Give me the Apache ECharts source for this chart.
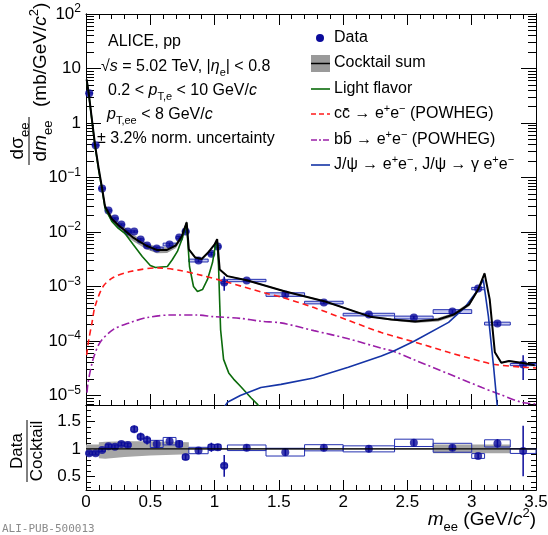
<!DOCTYPE html>
<html>
<head>
<meta charset="utf-8">
<title>ALICE pp 5.02 TeV dielectron cocktail</title>
<script src="https://cdn.jsdelivr.net/npm/echarts@6/dist/echarts.min.js"></script>
<style>
  html, body { margin: 0; padding: 0; background: #fff; }
  #main { width: 548px; height: 535px; }
</style>
</head>
<body>
<div id="main"></div>
<script>
// ---------- data points (mass bin centres, GeV/c^2) ----------
var massData = [0.025, 0.075, 0.125, 0.175, 0.225, 0.275, 0.325, 0.375, 0.425, 0.475,
                0.55, 0.65, 0.725, 0.775, 0.875, 0.975, 1.025, 1.075,
                1.25, 1.55, 1.85, 2.2, 2.55, 2.85, 3.05, 3.2, 3.4];
var binLo = [0, 0.05, 0.1, 0.15, 0.2, 0.25, 0.3, 0.35, 0.4, 0.45,
             0.5, 0.6, 0.7, 0.75, 0.8, 0.95, 1.0, 1.05,
             1.1, 1.4, 1.7, 2.0, 2.4, 2.7, 3.0, 3.1, 3.3];
var binHi = [0.05, 0.1, 0.15, 0.2, 0.25, 0.3, 0.35, 0.4, 0.45, 0.5,
             0.6, 0.7, 0.75, 0.8, 0.95, 1.0, 1.05, 1.1,
             1.4, 1.7, 2.0, 2.4, 2.7, 3.0, 3.1, 3.3, 3.5];
var dataVal = [3.5, 0.39, 0.063, 0.0248, 0.0177, 0.0137, 0.0102, 0.0102, 0.0073, 0.00565,
               0.0050, 0.0059, 0.0079, 0.0102, 0.0030, 0.0040, 0.0054, 0.00118,
               0.00129, 0.000713, 0.000508, 0.000306, 0.000270, 0.000348, 0.000918, 0.000209, 0.000037];
var statRel = [0.02, 0.02, 0.03, 0.03, 0.03, 0.03, 0.04, 0.05, 0.06, 0.07,
               0.06, 0.06, 0.06, 0.05, 0.06, 0.08, 0.06, 0.29,
               0.06, 0.07, 0.06, 0.06, 0.06, 0.06, 0.04, 0.07, 0.48];
var sysRel = [0.03, 0.03, 0.03, 0.03, 0.03, 0.03, 0.03, 0.03, 0.03, 0.03,
              0.06, 0.06, 0.05, 0.05, 0.06, 0.05, 0.05, 0.05,
              0.05, 0.075, 0.055, 0.055, 0.06, 0.08, 0.05, 0.06, 0.045];
var ratioVal = [0.92, 0.92, 0.98, 1.05, 1.04, 1.09, 1.07, 1.36, 1.22, 1.16,
                1.09, 1.14, 1.09, 0.85, 0.97, 1.03, 1.03, 0.69,
                1.02, 0.94, 1.02, 1.0, 1.11, 1.02, 0.87, 1.1, 0.96];

// ---------- cocktail sum ----------
var cocktailM = [0.005, 0.02, 0.07, 0.1, 0.125, 0.148, 0.2, 0.25, 0.3, 0.37, 0.47, 0.55, 0.63, 0.7, 0.745, 0.783,
                 0.8, 0.85, 0.9, 0.95, 1.0, 1.02, 1.04, 1.1, 1.25, 1.55, 1.86, 2.21, 2.375, 2.56, 2.74, 2.86,
                 2.98, 3.05, 3.10, 3.14, 3.18, 3.23, 3.29, 3.41, 3.49];
var cocktailV = [6.3, 3.7, 0.40, 0.14, 0.064, 0.0295, 0.0175, 0.0135, 0.0108, 0.0078, 0.0056, 0.0047, 0.0047, 0.0057, 0.0083, 0.0150,
                 0.0048, 0.0034, 0.0032, 0.0042, 0.0059, 0.0074, 0.00205, 0.00155, 0.00130, 0.00081, 0.00053, 0.00028, 0.000248, 0.000228, 0.000248, 0.000306,
                 0.00047, 0.00088, 0.00174, 0.00058, 6.2e-5, 4.0e-5, 4.3e-5, 3.9e-5, 3.6e-5];
var cocktailUnc = [0.06, 0.06, 0.06, 0.08, 0.1, 0.12, 0.14, 0.15, 0.15, 0.14, 0.14, 0.13, 0.12, 0.11, 0.1, 0.1,
                   0.05, 0.04, 0.03, 0.03, 0.03, 0.03, 0.03, 0.03, 0.03, 0.03, 0.03, 0.03, 0.04, 0.06, 0.08, 0.08,
                   0.08, 0.07, 0.06, 0.05, 0.03, 0.03, 0.03, 0.03, 0.03];

// ---------- cocktail components ----------
var lfM = [0.005, 0.02, 0.07, 0.1, 0.125, 0.148, 0.2, 0.25, 0.305, 0.367, 0.4375, 0.5, 0.54, 0.633, 0.672, 0.711,
           0.75, 0.781, 0.789, 0.805, 0.836, 0.867, 0.906, 0.945, 0.984, 1.008, 1.02, 1.031, 1.039, 1.047,
           1.07, 1.11, 1.148, 1.203, 1.281, 1.336, 1.37];
var lfV = [6.2, 3.6, 0.38, 0.13, 0.06, 0.027, 0.0158, 0.0118, 0.0093, 0.0059, 0.00355, 0.00243, 0.00223, 0.00233, 0.00313, 0.0044,
           0.0078, 0.0145, 0.0081, 0.00233, 0.0010, 0.00081, 0.00088, 0.00135, 0.00275, 0.0059, 0.0070, 0.00233, 0.00058, 0.00016,
           4.6e-5, 2.6e-5, 2.0e-5, 1.46e-5, 9.2e-6, 6.8e-6, 5.0e-6];
var ccM = [0.005, 0.02, 0.047, 0.07, 0.133, 0.211, 0.344, 0.555, 0.734, 0.9, 1.1, 1.4, 1.52, 1.773, 2.04, 2.297, 2.555, 2.82, 3.08, 3.18, 3.41, 3.5];
var ccV = [5.5e-5, 1.0e-4, 2.2e-4, 4.3e-4, 1.0e-3, 1.46e-3, 1.88e-3, 2.2e-3, 1.97e-3, 1.6e-3, 1.2e-3, 7.5e-4, 6.4e-4, 4.1e-4, 2.4e-4, 1.43e-4, 9.6e-5, 6.2e-5, 4.2e-5, 3.7e-5, 3.3e-5, 3.2e-5];
var bbM = [0.008, 0.016, 0.055, 0.109, 0.211, 0.344, 0.477, 0.656, 0.867, 0.992, 1.203, 1.36, 1.516, 1.773, 2.04, 2.297, 2.39, 2.555, 2.82, 3.08, 3.21, 3.39, 3.5];
var bbV = [1.13e-5, 1.73e-5, 4.6e-5, 9.4e-5, 1.62e-4, 2.18e-4, 2.7e-4, 3.0e-4, 3.0e-4, 2.8e-4, 2.6e-4, 2.3e-4, 2.15e-4, 1.55e-4, 1.1e-4, 7.4e-5, 6.5e-5, 4.5e-5, 2.5e-5, 1.4e-5, 1.07e-5, 7.5e-6, 7.0e-6];
var jpsiM = [1.05, 1.1, 1.2, 1.36, 1.516, 1.77, 2.04, 2.297, 2.39, 2.555, 2.82, 2.945, 3.05, 3.09, 3.13, 3.17, 3.2, 3.22];
var jpsiV = [5e-6, 7.5e-6, 1.0e-5, 1.4e-5, 1.6e-5, 2.1e-5, 3.3e-5, 5.3e-5, 6.5e-5, 1.0e-4, 2.2e-4, 4.1e-4, 8.8e-4, 1.34e-3, 2.8e-4, 3.4e-5, 6e-6, 3e-6];

// ---------- ratio panel cocktail uncertainty ----------
var rbM  = [0, 0.1, 0.1, 0.15, 0.3, 0.5, 0.8, 0.8, 2.7, 2.7, 3.3, 3.3, 3.5];
var rbLo = [0.87, 0.87, 0.83, 0.82, 0.85, 0.88, 0.9, 0.985, 0.985, 0.92, 0.92, 0.985, 0.985];
var rbHi = [1.08, 1.08, 1.12, 1.13, 1.14, 1.14, 1.12, 1.015, 1.015, 1.08, 1.08, 1.015, 1.015];

// ---------- tick labels ----------
var yMajor = [1e-5, 1e-4, 1e-3, 1e-2, 1e-1, 1, 10, 100];
var ratioMajor = [0.5, 1, 1.5];
var ratioMinor = [0.3, 0.4, 0.6, 0.7, 0.8, 0.9, 1.1, 1.2, 1.3, 1.4, 1.6, 1.7];

var yMin = Math.pow(10, -5.174);
var yMinor = [];
for (var e = -6; e < 2; e++) {
    for (var k = 2; k <= 9; k++) {
        var v = k * Math.pow(10, e);
        if (v > yMin && v < 100) yMinor.push(v);
    }
}

var F = '"Liberation Sans", Arial, Helvetica, sans-serif';
var BLUE = '#0a0a9a';

var chart = echarts.init(document.getElementById('main'), null, {width: 548, height: 535});

function pairs(xs, ys) {
    return xs.map(function (x, i) { return [x, ys[i]]; });
}

// 10^n labels
function logLabel(v) {
    var l = Math.log10(v);
    var n = Math.round(l);
    if (Math.abs(l - n) > 1e-6) return '';
    if (n === 0) return '{b|1}';
    if (n === 1) return '{b|10}';
    return '{b|10}{s|' + (n < 0 ? '\u2212' + (-n) : n) + '}';
}

function bandItem(xs, lo, hi, color) {
    return function (params, api) {
        var pts = [];
        for (var i = 0; i < xs.length; i++) pts.push(api.coord([xs[i], hi[i]]));
        for (var j = xs.length - 1; j >= 0; j--) pts.push(api.coord([xs[j], lo[j]]));
        var cs = params.coordSys;
        return {
            type: 'group',
            clipPath: {type: 'rect', shape: {x: cs.x, y: cs.y, width: cs.width, height: cs.height}},
            children: [{type: 'polygon', shape: {points: pts}, style: {fill: color}}]
        };
    };
}

function boxItem(fill) {
    return function (params, api) {
        var a = api.coord([api.value(0), api.value(3)]);
        var b = api.coord([api.value(1), api.value(2)]);
        return {
            type: 'rect',
            shape: {x: a[0], y: a[1], width: b[0] - a[0], height: b[1] - a[1]},
            style: {fill: fill, stroke: '#2430b0', lineWidth: 1}
        };
    };
}

function errItem(params, api) {
    var a = api.coord([api.value(0), api.value(1)]);
    var b = api.coord([api.value(0), api.value(2)]);
    return {type: 'line', shape: {x1: a[0], y1: a[1], x2: b[0], y2: b[1]}, style: {stroke: BLUE, lineWidth: 1.5}};
}

function xAx(grid, pos, showLabel, major, minor) {
    return {
        type: 'value', gridIndex: grid, position: pos, min: 0, max: 3.5, interval: 0.5,
        axisLine: {show: true, onZero: false, lineStyle: {color: '#000', width: 1}},
        axisTick: {show: true, inside: true, length: major, lineStyle: {color: '#000'}},
        minorTick: {show: minor > 0, splitNumber: 5, length: minor, lineStyle: {color: '#000'}},
        axisLabel: {show: showLabel, color: '#000', fontSize: 17, fontFamily: F, margin: 4},
        splitLine: {show: false}, minorSplitLine: {show: false}
    };
}

function yLog(pos, ticks, len, labels) {
    return {
        type: 'log', logBase: 10, gridIndex: 0, position: pos, min: yMin, max: 100,
        axisLine: {show: true, onZero: false, lineStyle: {color: '#000', width: 1}},
        axisTick: {show: true, inside: true, length: len, customValues: ticks, lineStyle: {color: '#000'}},
        axisLabel: {
            show: labels, customValues: yMajor, formatter: logLabel, margin: 5,
            rich: {
                b: {fontSize: 17, fontFamily: F, color: '#000', lineHeight: 22},
                s: {fontSize: 12, fontFamily: F, color: '#000', verticalAlign: 'top'}
            }
        },
        splitLine: {show: false}
    };
}

function yRatio(pos, ticks, len, labels) {
    return {
        type: 'value', gridIndex: 1, position: pos, min: 0.25, max: 1.8,
        axisLine: {show: true, onZero: false, lineStyle: {color: '#000', width: 1}},
        axisTick: {show: true, inside: true, length: len, customValues: ticks, lineStyle: {color: '#000'}},
        axisLabel: {show: labels, customValues: ratioMajor, color: '#000', fontSize: 17, fontFamily: F, margin: 5},
        splitLine: {show: false}
    };
}

// rich text for free texts
function rt(size) {
    var s = Math.round(size * 0.7);
    return {
        n: {fontSize: size, fontFamily: F, fill: '#000', lineHeight: Math.round(size * 1.4)},
        i: {fontSize: size, fontFamily: F, fontStyle: 'italic', fill: '#000', lineHeight: Math.round(size * 1.4)},
        sub: {fontSize: s, fontFamily: F, fill: '#000', verticalAlign: 'bottom'},
        sup: {fontSize: s, fontFamily: F, fill: '#000', verticalAlign: 'top'}
    };
}
var R16 = rt(16), R17 = rt(17), R19 = rt(19);

function txt(x, y, text, rich, align) {
    return {type: 'text', x: x, y: y, silent: true,
        style: {text: text, rich: rich, align: align || 'left', verticalAlign: 'middle'}};
}
function seg(x1, y1, x2, y2, color, width, dash) {
    return {type: 'line', silent: true, shape: {x1: x1, y1: y1, x2: x2, y2: y2},
        style: {stroke: color, lineWidth: width, lineDash: dash || null}};
}

var option = {
    animation: false,
    backgroundColor: '#fff',
    grid: [
        {left: 86, top: 14, width: 450, height: 391, outerBoundsMode: 'none'},
        {left: 86, top: 405, width: 450, height: 85, outerBoundsMode: 'none'}
    ],
    xAxis: [
        xAx(0, 'bottom', false, 11, 5),
        xAx(0, 'top', false, 11, 5),
        xAx(1, 'bottom', true, 10, 5),
        xAx(1, 'top', false, 4, 0)
    ],
    yAxis: [
        yLog('left', yMajor, 15, true),
        yLog('left', yMinor, 8, false),
        yLog('right', yMajor, 15, false),
        yLog('right', yMinor, 8, false),
        yRatio('left', ratioMajor, 9, true),
        yRatio('left', ratioMinor, 5, false),
        yRatio('right', ratioMajor, 9, false),
        yRatio('right', ratioMinor, 5, false)
    ],
    series: [
        {   // cocktail uncertainty band
            type: 'custom', xAxisIndex: 0, yAxisIndex: 0, silent: true,
            data: [[1, 1]],
            renderItem: bandItem(cocktailM,
                cocktailV.map(function (v, i) { return v * (1 - cocktailUnc[i]); }),
                cocktailV.map(function (v, i) { return v * (1 + cocktailUnc[i]); }), '#9a9a9a')
        },
        {name: 'Light flavor', type: 'line', xAxisIndex: 0, yAxisIndex: 0, symbol: 'none',
            data: pairs(lfM, lfV), lineStyle: {color: '#0b6b0b', width: 1.6}},
        {name: 'cc', type: 'line', xAxisIndex: 0, yAxisIndex: 0, symbol: 'none', smooth: 0.3,
            data: pairs(ccM, ccV), lineStyle: {color: '#ff1a1a', width: 1.6, type: [6, 4]}},
        {name: 'bb', type: 'line', xAxisIndex: 0, yAxisIndex: 0, symbol: 'none', smooth: 0.3,
            data: pairs(bbM, bbV), lineStyle: {color: '#9b1fa8', width: 1.6, type: [8, 3, 2, 3]}},
        {name: 'J/psi', type: 'line', xAxisIndex: 0, yAxisIndex: 0, symbol: 'none',
            data: pairs(jpsiM, jpsiV), lineStyle: {color: '#1534a6', width: 1.6}},
        {name: 'Cocktail sum', type: 'line', xAxisIndex: 0, yAxisIndex: 0, symbol: 'none',
            data: pairs(cocktailM, cocktailV), lineStyle: {color: '#000', width: 2}},
        {   // systematic boxes
            type: 'custom', xAxisIndex: 0, yAxisIndex: 0, silent: true,
            data: massData.map(function (m, i) {
                return [binLo[i], binHi[i], dataVal[i] * (1 - sysRel[i]), dataVal[i] * (1 + sysRel[i])];
            }),
            encode: {x: [0, 1], y: [2, 3]},
            renderItem: boxItem('rgba(70,80,210,0.3)')
        },
        {   // statistical errors
            type: 'custom', xAxisIndex: 0, yAxisIndex: 0, silent: true,
            data: massData.map(function (m, i) {
                return [m, dataVal[i] * (1 - statRel[i]), dataVal[i] * (1 + statRel[i])];
            }),
            encode: {x: 0, y: [1, 2]},
            renderItem: errItem
        },
        {name: 'Data', type: 'scatter', xAxisIndex: 0, yAxisIndex: 0, symbolSize: 8,
            data: pairs(massData, dataVal), itemStyle: {color: BLUE}},

        // ----- ratio panel -----
        {
            type: 'custom', xAxisIndex: 2, yAxisIndex: 4, silent: true,
            data: [[1, 1]],
            renderItem: bandItem(rbM, rbLo, rbHi, '#a6a6a6')
        },
        {type: 'line', xAxisIndex: 2, yAxisIndex: 4, symbol: 'none',
            data: [[0, 1], [3.5, 1]], lineStyle: {color: '#000', width: 1.2}},
        {
            type: 'custom', xAxisIndex: 2, yAxisIndex: 4, silent: true,
            data: massData.map(function (m, i) {
                return [binLo[i], binHi[i], ratioVal[i] * (1 - sysRel[i]), ratioVal[i] * (1 + sysRel[i])];
            }),
            encode: {x: [0, 1], y: [2, 3]},
            renderItem: boxItem('rgba(255,255,255,0)')
        },
        {
            type: 'custom', xAxisIndex: 2, yAxisIndex: 4, silent: true,
            data: massData.map(function (m, i) {
                return [m, ratioVal[i] * (1 - statRel[i]), ratioVal[i] * (1 + statRel[i])];
            }),
            encode: {x: 0, y: [1, 2]},
            renderItem: errItem
        },
        {type: 'scatter', xAxisIndex: 2, yAxisIndex: 4, symbolSize: 8,
            data: pairs(massData, ratioVal), itemStyle: {color: BLUE}}
    ],
    graphic: [
        // system label texts
        txt(108, 42, '{n|ALICE, pp}', R16),
        txt(101, 67, '{n|\u221A}{i|s}{n| = 5.02 TeV, |}{i|\u03B7}{sub|e}{n|| < 0.8}', R16),
        txt(108, 91, '{n|0.2 < }{i|p}{sub|T,e}{n| < 10 GeV/}{i|c}', R16),
        txt(107, 115, '{i|p}{sub|T,ee}{n| < 8 GeV/}{i|c}', R16),
        txt(97, 139, '{n|\u00B1 3.2% norm. uncertainty}', R16),

        // legend
        {type: 'circle', silent: true, shape: {cx: 320, cy: 38, r: 4}, style: {fill: BLUE}},
        {type: 'rect', silent: true, shape: {x: 311, y: 55, width: 19, height: 17}, style: {fill: '#9a9a9a'}},
        seg(311, 63.5, 330, 63.5, '#000', 1.5),
        seg(311, 89, 330, 89, '#0b6b0b', 1.6),
        seg(311, 114, 330, 114, '#ff1a1a', 1.6, [5, 3]),
        seg(311, 140, 330, 140, '#9b1fa8', 1.6, [6, 2, 2, 2]),
        seg(311, 165, 330, 165, '#1534a6', 1.6),
        txt(334, 38, '{n|Data}', R16),
        txt(334, 63, '{n|Cocktail sum}', R16),
        txt(334, 89, '{n|Light flavor}', R16),
        txt(334, 114, '{n|cc\u0304 \u2192 e}{sup|+}{n|e}{sup|\u2212}{n| (POWHEG)}', R16),
        txt(334, 140, '{n|bb\u0304 \u2192 e}{sup|+}{n|e}{sup|\u2212}{n| (POWHEG)}', R16),
        txt(334, 165, '{n|J/\u03C8 \u2192 e}{sup|+}{n|e}{sup|\u2212}{n|, J/\u03C8 \u2192 \u03B3 e}{sup|+}{n|e}{sup|\u2212}', R16),

        // y title, top panel
        {
            type: 'group', x: 29, y: 141, rotation: Math.PI / 2,
            children: [
                txt(0, -11, '{n|d\u03C3}{sub|ee}', R19, 'center'),
                seg(-24, 0, 24, 0, '#000', 1),
                txt(0, 12, '{n|d}{i|m}{sub|ee}', R19, 'center'),
                txt(34, 12, '{n|(mb/GeV/}{i|c}{sup|2}{n|)}', R19, 'left')
            ]
        },
        // y title, ratio panel
        {
            type: 'group', x: 27, y: 451, rotation: Math.PI / 2,
            children: [
                txt(0, -10, '{n|Data}', R17, 'center'),
                seg(-31, 0, 31, 0, '#000', 1),
                txt(0, 10, '{n|Cocktail}', R17, 'center')
            ]
        },
        // x title
        txt(536, 520, '{i|m}{sub|ee}{n| (GeV/}{i|c}{sup|2}{n|)}', R19, 'right'),
        {type: 'text', x: 2, y: 524, silent: true,
            style: {text: 'ALI-PUB-500013', font: '11px "DejaVu Sans Mono", monospace', fill: '#8a8a8a'}}
    ]
};

chart.setOption(option);
</script>
</body>
</html>
